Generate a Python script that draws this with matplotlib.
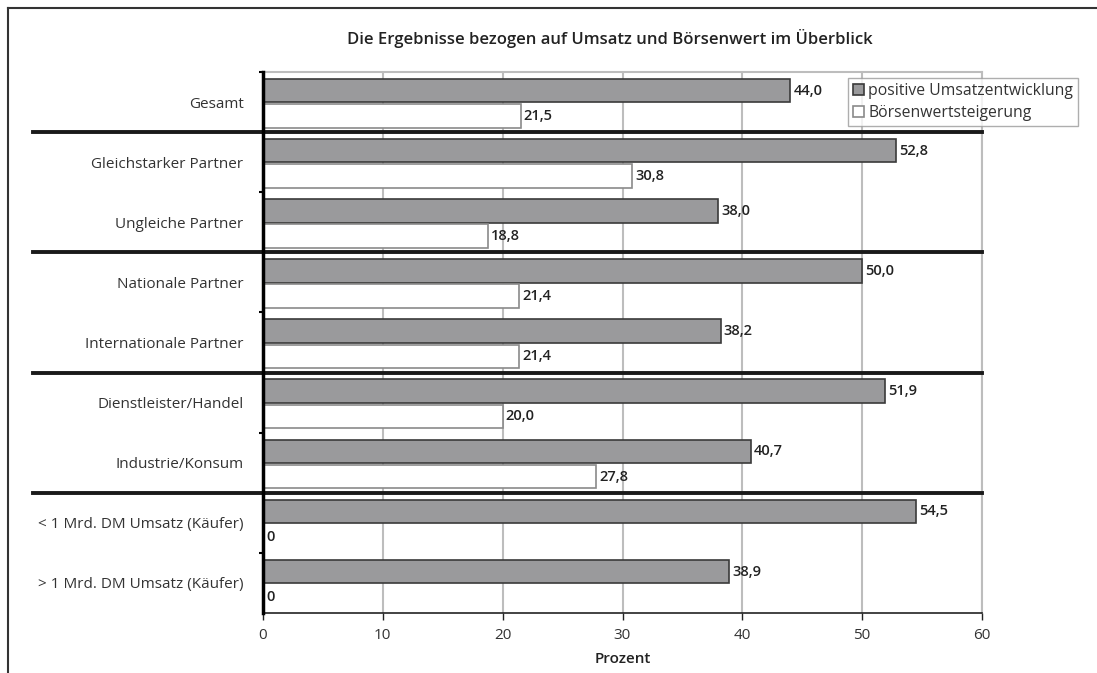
import matplotlib.pyplot as plt
from matplotlib.lines import Line2D
import matplotlib.transforms as mtransforms
import numpy as np

# Daten
kategorien = ['Gesamt', 'Gleichstarker Partner', 'Ungleiche Partner',
              'Nationale Partner', 'Internationale Partner',
              'Dienstleister/Handel', 'Industrie/Konsum',
              '< 1 Mrd. DM Umsatz (Käufer)', '> 1 Mrd. DM Umsatz (Käufer)']
umsatz = [44.0, 52.8, 38.0, 50.0, 38.2, 51.9, 40.7, 54.5, 38.9]
boersenwert = [21.5, 30.8, 18.8, 21.4, 21.4, 20.0, 27.8, 0, 0]
gruppen_grenzen = [0.5, 2.5, 4.5, 6.5]
x_ticks = [0, 10, 20, 30, 40, 50, 60]

plt.rcParams['font.family'] = ['Open Sans', 'DejaVu Sans']

fig = plt.figure(figsize=(10.97, 6.73), dpi=100)
ax = fig.add_axes([263 / 1097, 1 - 613 / 673, 719 / 1097, 541 / 673])

y = np.arange(len(kategorien))
h = 0.39
ax.barh(y - 0.19, umsatz, height=h, color='#9a9a9c', edgecolor='#3a3a3a',
        linewidth=1.2, label='positive Umsatzentwicklung', zorder=3)
ax.barh(y + 0.23, boersenwert, height=h, color='white', edgecolor='#8a8a8a',
        linewidth=1.2, label='Börsenwertsteigerung', zorder=3)

def fmt(v):
    return '0' if v == 0 else f'{v:.1f}'.replace('.', ',')

for i in range(len(kategorien)):
    ax.text(umsatz[i] + 0.25, y[i] - 0.19, fmt(umsatz[i]), va='center',
            ha='left', fontsize=10.5, fontweight='semibold', color='#222222')
    ax.text(boersenwert[i] + 0.25, y[i] + 0.23, fmt(boersenwert[i]),
            va='center', ha='left', fontsize=10.5, fontweight='semibold',
            color='#222222')

ax.set_xlim(0, 60)
ax.set_ylim(8.5, -0.5)
ax.set_xticks(x_ticks)
ax.set_xticklabels([str(t) for t in x_ticks], fontsize=11, color='#333333')
ax.set_yticks(y)
ax.set_yticklabels(kategorien, fontsize=11, color='#333333')
ax.tick_params(axis='y', length=0, pad=14)
ax.set_yticks(np.arange(-0.5, 8.5, 1), minor=True)
ax.tick_params(axis='y', which='minor', length=3, width=1.5, color='black')
ax.tick_params(axis='x', length=5, width=1, color='#222222', pad=6)

ax.grid(axis='x', color='#bdbdbd', linewidth=1.5, zorder=0)
ax.set_axisbelow(True)

ax.spines['left'].set_linewidth(2.5)
ax.spines['left'].set_color('black')
ax.spines['left'].set_zorder(5)
ax.spines['bottom'].set_linewidth(1.2)
ax.spines['bottom'].set_color('#222222')
ax.spines['top'].set_color('#bdbdbd')
ax.spines['top'].set_linewidth(1.5)
ax.spines['right'].set_color('#bdbdbd')
ax.spines['right'].set_linewidth(1.5)

# Trennlinien zwischen Gruppen
trans = mtransforms.blended_transform_factory(ax.transAxes, ax.transData)
for g in gruppen_grenzen:
    ax.plot([-0.32, 1.0], [g, g], color='#1a1a1a', linewidth=2.8,
            transform=trans, clip_on=False, zorder=4)

ax.set_xlabel('Prozent', fontsize=11, fontweight='semibold', color='#222222',
              labelpad=6)

fig.text(0.5559, 1 - 38 / 673, 'Die Ergebnisse bezogen auf Umsatz und Börsenwert im Überblick',
         ha='center', va='center', fontsize=12, fontweight='semibold',
         color='#222222')

leg = ax.legend(loc='upper left', bbox_to_anchor=(848 / 1097, 1 - 78 / 673),
                bbox_transform=fig.transFigure, fontsize=11.3, frameon=True,
                fancybox=False, edgecolor='#9a9a9a', handlelength=0.7,
                handleheight=0.7, handletextpad=0.3, borderpad=0.3,
                labelspacing=0.4, borderaxespad=0)
leg.get_frame().set_linewidth(1)
leg.set_zorder(6)
for t in leg.get_texts():
    t.set_color('#333333')

# Rahmen
fig.add_artist(Line2D([8 / 1097, 8 / 1097], [0, 1 - 8 / 673], color='#333333',
                      linewidth=1.5, transform=fig.transFigure))
fig.add_artist(Line2D([8 / 1097, 1], [1 - 8 / 673, 1 - 8 / 673], color='#333333',
                      linewidth=1.5, transform=fig.transFigure))

fig.savefig('out.png', dpi=100)
